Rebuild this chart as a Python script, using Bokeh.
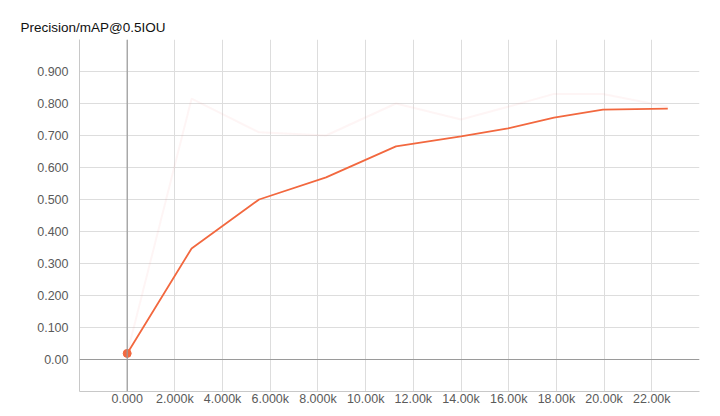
from bokeh.plotting import figure
from bokeh.models import FixedTicker, Span, Range1d
from bokeh.embed import file_html
from bokeh.resources import INLINE

# data
steps = [0, 2700, 5530, 8340, 11270, 14000, 15970, 17900, 19950, 22670]
smoothed = [0.019, 0.347, 0.500, 0.569, 0.666, 0.697, 0.722, 0.756, 0.781, 0.784]
raw = [0.019, 0.815, 0.71, 0.70, 0.80, 0.75, 0.79, 0.83, 0.83, 0.79]

x_ticks = [-2000, 0, 2000, 4000, 6000, 8000, 10000, 12000, 14000, 16000, 18000, 20000, 22000, 24000]
x_labels = ["", "0.000", "2.000k", "4.000k", "6.000k", "8.000k", "10.00k", "12.00k",
            "14.00k", "16.00k", "18.00k", "20.00k", "22.00k", ""]
y_ticks = [-0.1, 0.0, 0.1, 0.2, 0.3, 0.4, 0.5, 0.6, 0.7, 0.8, 0.9, 1.0]
y_labels = ["", "0.00", "0.100", "0.200", "0.300", "0.400", "0.500", "0.600",
            "0.700", "0.800", "0.900", ""]

FONT = "Liberation Sans"

p = figure(width=712, height=408, output_backend="svg", toolbar_location=None,
           x_range=Range1d(-2000, 24000), y_range=Range1d(-0.1, 1.0),
           title="Precision/mAP@0.5IOU",
           min_border_left=79, min_border_right=13, min_border_top=39, min_border_bottom=17)

p.title.text_font = FONT
p.title.text_font_size = "13.5px"
p.title.text_font_style = "normal"
p.title.text_color = "#111111"
p.title.offset = -59

p.outline_line_color = None

p.xaxis.ticker = FixedTicker(ticks=x_ticks)
p.yaxis.ticker = FixedTicker(ticks=y_ticks)
p.xaxis.major_label_overrides = {t: l for t, l in zip(x_ticks, x_labels)}
p.yaxis.major_label_overrides = {t: l for t, l in zip(y_ticks, y_labels)}

for ax in (p.xaxis, p.yaxis):
    ax.major_tick_line_color = None
    ax.minor_tick_line_color = None
    ax.major_tick_out = 0
    ax.major_tick_in = 0
    ax.axis_line_color = "#c8c8c8"
    ax.major_label_text_font = FONT
    ax.major_label_text_font_size = "12.5px"
    ax.major_label_text_color = "#5a5a5a"
p.yaxis.major_label_standoff = 11
p.xaxis.major_label_standoff = 0

p.xgrid.ticker = FixedTicker(ticks=x_ticks)
p.ygrid.ticker = FixedTicker(ticks=y_ticks)
p.grid.grid_line_color = "#dddddd"
p.grid.grid_line_width = 1

p.add_layout(Span(location=0, dimension="height", line_color="#9a9a9a", line_width=1.2))
p.add_layout(Span(location=0, dimension="width", line_color="#9a9a9a", line_width=1.2))

p.line(steps, raw, line_color="#f4a0a0", line_alpha=0.1, line_width=2)
p.line(steps, smoothed, line_color="#f2683f", line_width=1.8)
p.scatter(steps[:1], smoothed[:1], size=8, color="#f2683f")

open("out.html", "w").write(file_html(p, INLINE))
